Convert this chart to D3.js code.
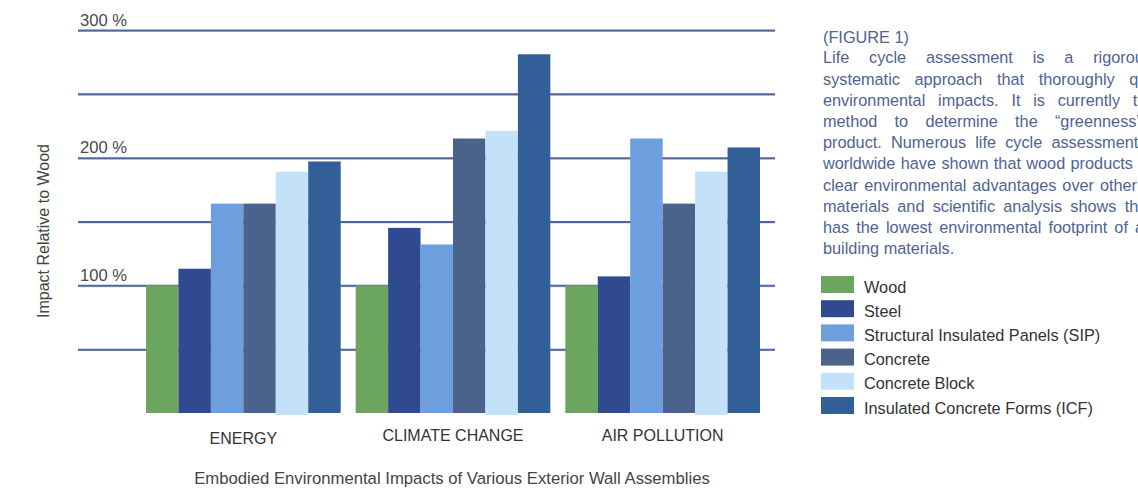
<!DOCTYPE html>
<html>
<head>
<meta charset="utf-8">
<script src="https://cdn.jsdelivr.net/npm/d3@7"></script>
<style>
  body { margin: 0; background: #fff; }
  text { font-family: "Liberation Sans", Arial, sans-serif; }
</style>
</head>
<body>
<div class="chart"></div>
<script>
// impact categories on the x axis
var categories = ["ENERGY", "CLIMATE CHANGE", "AIR POLLUTION"];

// wall assemblies (one bar each per category)
var materials = ["Wood", "Steel", "Structural Insulated Panels (SIP)", "Concrete", "Concrete Block", "Insulated Concrete Forms (ICF)"];
var materialColors = ["#6ca55e", "#2f4a8f", "#6d9fdf", "#4b638b", "#c3e1f9", "#325f97"];

// values in % relative to wood, one array per category
var energyVals = [100, 113, 164, 164, 189, 197];
var climateVals = [100, 145, 132, 215, 221, 281];
var airVals = [100, 107, 215, 164, 189, 208];

// y ticks
var gridTicks = [50, 100, 150, 200, 250, 300];
var labelTicks = [100, 200, 300];

// side note text, one entry per printed line (the page cuts it off on the right)
var noteTitle = "(FIGURE 1)";
var noteLines = [
  "Life cycle assessment is a rigorous and",
  "systematic approach that thoroughly quantifies",
  "environmental impacts. It is currently the best",
  "method to determine the \u201cgreenness\u201d of a",
  "product. Numerous life cycle assessment studies",
  "worldwide have shown that wood products illustrate",
  "clear environmental advantages over other building",
  "materials and scientific analysis shows that wood",
  "has the lowest environmental footprint of all major",
  "building materials."
];

var w = 1138, h = 490;
var svg = d3.select(".chart").append("svg").attr("width", w).attr("height", h);

var yScale = d3.scaleLinear().domain([0, 300]).range([413, 30]);
var x0 = d3.scaleBand().domain(categories).range([146, 760]).paddingInner(15 / 210).paddingOuter(0);
var x1 = d3.scaleBand().domain(materials).range([0, x0.bandwidth()]);

//gridlines - light line under the dark one
svg.append("g").selectAll("line")
  .data(gridTicks)
  .enter()
  .append("line")
  .attr("x1", 78).attr("x2", 775)
  .attr("y1", (d) => yScale(d) + 1.5).attr("y2", (d) => yScale(d) + 1.5)
  .attr("stroke", "#c5cde0").attr("stroke-width", 1);

const gridAxis = d3.axisRight(yScale).tickValues(gridTicks).tickSize(697).tickFormat("");
svg.append("g")
  .attr("transform", "translate(78,0)")
  .call(gridAxis)
  .call((g) => g.select(".domain").remove())
  .call((g) => g.selectAll("line").attr("stroke", "#4e6797").attr("stroke-width", 2));

//tick labels above the lines
const labelAxis = d3.axisRight(yScale).tickValues(labelTicks).tickSize(0).tickFormat((d) => d + " %");
svg.append("g")
  .attr("transform", "translate(80,0)")
  .call(labelAxis)
  .call((g) => g.select(".domain").remove())
  .call((g) => g.selectAll("text")
    .attr("x", 0).attr("dy", -5)
    .attr("text-anchor", "start")
    .attr("fill", "#4a4a4a")
    .style("font-size", "16.6px")
    .style("font-family", "Liberation Sans, Arial, sans-serif"));

//bars
var allVals = [energyVals, climateVals, airVals];
var groups = svg.selectAll(".grp")
  .data(categories)
  .enter()
  .append("g")
  .attr("class", "grp")
  .attr("transform", (d) => "translate(" + x0(d) + ",0)");

groups.selectAll("rect")
  .data((d, i) => allVals[i].map((v, j) => [materials[j], v, j]))
  .enter()
  .append("rect")
  .attr("x", (d) => x1(d[0]))
  .attr("y", (d) => yScale(d[1]))
  .attr("width", x1.bandwidth())
  .attr("height", (d) => yScale(0) - yScale(d[1]) + (d[2] == 4 ? 2 : 0))
  .attr("fill", (d) => materialColors[d[2]]);

//category labels
const xAxis = d3.axisBottom(x0).tickSize(0);
svg.append("g")
  .attr("transform", "translate(0,413)")
  .call(xAxis)
  .call((g) => g.select(".domain").remove())
  .call((g) => g.selectAll("text")
    .attr("y", (d, i) => i == 0 ? 31 : 28)
    .attr("dy", 0)
    .attr("fill", "#333")
    .style("font-size", "16px")
    .style("font-family", "Liberation Sans, Arial, sans-serif"));

//axis titles
svg.append("text")
  .attr("x", 452).attr("y", 483.5)
  .attr("text-anchor", "middle")
  .attr("fill", "#444")
  .style("font-size", "16.7px")
  .text("Embodied Environmental Impacts of Various Exterior Wall Assemblies");

svg.append("text")
  .attr("transform", "translate(49,231) rotate(-90)")
  .attr("text-anchor", "middle")
  .attr("fill", "#444")
  .style("font-size", "16px")
  .text("Impact Relative to Wood");

//legend
var legend = svg.selectAll(".leg")
  .data(materials)
  .enter()
  .append("g")
  .attr("class", "leg")
  .attr("transform", (d, i) => "translate(821," + (276 + 24.2 * i) + ")");

legend.append("rect")
  .attr("width", 33).attr("height", 17)
  .attr("fill", (d, i) => materialColors[i]);

legend.append("text")
  .attr("x", 43).attr("y", 16.5)
  .attr("fill", "#333")
  .style("font-size", "16.3px")
  .text((d) => d);

//side note, justified lines
var noteLeft = 823, noteRight = 1199, noteTop = 63.3, lineStep = 21.2;
var noteColor = "#4f6394";

svg.append("text")
  .attr("x", noteLeft).attr("y", 42.5)
  .attr("fill", noteColor)
  .style("font-size", "16.3px")
  .text(noteTitle);

noteLines.forEach(function (line, i) {
  var y = noteTop + i * lineStep;
  var words = line.split(" ");
  var t = svg.append("text").attr("y", y).attr("fill", noteColor).style("font-size", "16.3px");
  var spans = words.map((wd) => t.append("tspan").text(wd));
  var widths = spans.map((s) => s.node().getComputedTextLength());
  var total = d3.sum(widths);
  var last = i == noteLines.length - 1;
  var space = 4.5;
  var gap = (!last && words.length > 1) ? (noteRight - noteLeft - total) / (words.length - 1) : space;
  var xPos = noteLeft;
  spans.forEach(function (s, j) {
    s.attr("x", xPos).attr("y", y);
    xPos += widths[j] + gap;
  });
});
</script>
</body>
</html>
